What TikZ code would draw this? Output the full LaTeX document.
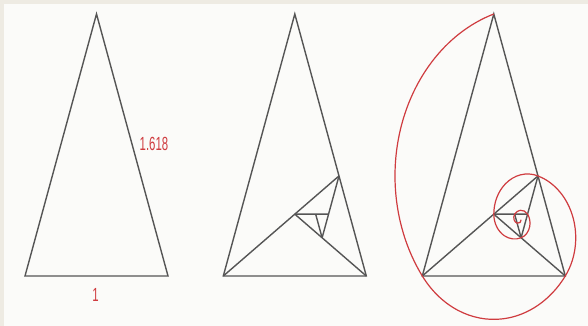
\documentclass[tikz,border=0pt]{standalone}
\usepackage{fontspec}
\newfontfamily\lblfont[FakeStretch=0.6]{Liberation Sans}
\usetikzlibrary{calc}
\definecolor{bgout}{HTML}{EEEBE3}
\definecolor{bgin}{HTML}{FBFBF9}
\definecolor{edge}{HTML}{555555}
\definecolor{spiral}{HTML}{CF3B3F}
\begin{document}
\begin{tikzpicture}[x=143pt,y=170.26pt,
  tri/.style={draw=edge, line width=1.4pt, line join=miter},
  sub/.style={draw=edge, line width=1.4pt},
  spir/.style={draw=spiral, line width=1.2pt},
  lbl/.style={text=spiral, font=\lblfont\fontsize{19}{19}\selectfont, inner sep=0pt}]
\fill[bgout] (0pt,0pt) rectangle (588pt,326pt);
\fill[bgin] (4pt,0pt) rectangle (588pt,322pt);
\useasboundingbox (0pt,0pt) rectangle (588pt,326pt);
% triangle 1
\begin{scope}[shift={(25pt,50pt)}]
  \coordinate (A1) at (0.5,1.53884);
  \coordinate (B1) at (0,0);
  \coordinate (C1) at (1,0);
  \draw[tri] (A1) -- (B1) -- (C1) -- cycle;
\end{scope}
\node[lbl] (side) at (154pt,182pt) {1.618};
\node[lbl] (base) at (95.5pt,31pt) {1};
% triangle 2 and 3
\foreach \k/\sx in {2/223.3, 3/422.3}{
  \begin{scope}[shift={(\sx pt,50pt)}]
    \coordinate (A\k) at (0.5,1.53884);
    \coordinate (B\k) at (0,0);
    \coordinate (C\k) at (1,0);
  \end{scope}
  \coordinate (D\k) at ($(C\k)!0.381966!(A\k)$);
  \coordinate (E\k) at ($(D\k)!0.381966!(B\k)$);
  \coordinate (F\k) at ($(E\k)!0.381966!(C\k)$);
  \coordinate (G\k) at ($(F\k)!0.381966!(D\k)$);
  \coordinate (H\k) at ($(G\k)!0.381966!(E\k)$);
  \draw[tri] (A\k) -- (B\k) -- (C\k) -- cycle;
  \draw[sub] (B\k) -- (D\k);
  \draw[sub] (C\k) -- (E\k);
  \draw[sub] (D\k) -- (F\k);
  \draw[sub] (E\k) -- (G\k);
  \draw[sub] (F\k) -- (H\k);
}
% golden spiral
\draw[spir] (A3)
  arc[start angle=108, delta angle=108, radius=1]
  arc[start angle=216, delta angle=108, radius=0.618034]
  arc[start angle=324, delta angle=108, radius=0.381966]
  arc[start angle=72,  delta angle=108, radius=0.236068]
  arc[start angle=180, delta angle=108, radius=0.145898]
  arc[start angle=288, delta angle=108, radius=0.090170]
  arc[start angle=36,  delta angle=108, radius=0.055728]
  arc[start angle=144, delta angle=108, radius=0.034442]
  arc[start angle=252, delta angle=108, radius=0.021286];
\end{tikzpicture}
\end{document}
